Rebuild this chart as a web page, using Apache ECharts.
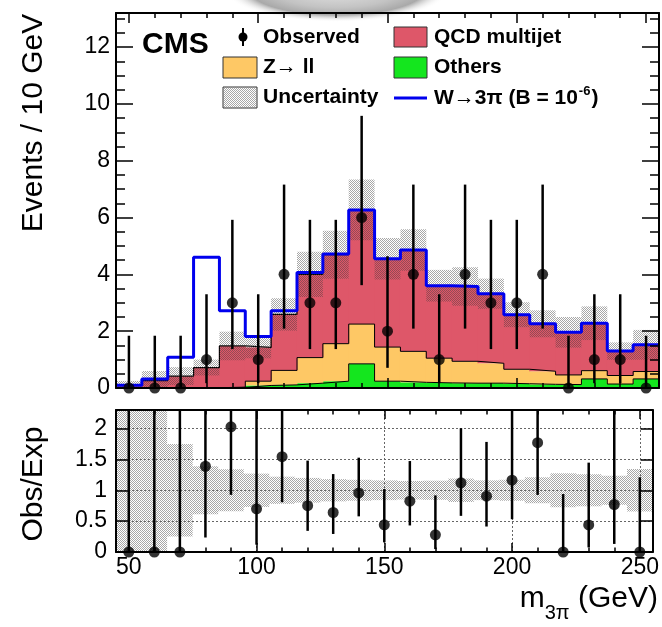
<!DOCTYPE html>
<html>
<head>
<meta charset="utf-8">
<script src="https://cdn.jsdelivr.net/npm/echarts@6/dist/echarts.min.js"></script>
<style>
  html, body { margin: 0; padding: 0; background: #fff; }
  #chart { width: 662px; height: 627px; }
</style>
</head>
<body>
<div id="chart"></div>
<script>
// m(3pi) bins, 10 GeV wide, given by their centres
const binCenters = [50, 60, 70, 80, 90, 100, 110, 120, 130, 140, 150, 160, 170, 180, 190, 200, 210, 220, 230, 240, 250];
const binHalfWidth = 5;

// observed events and their 68% Poisson interval
const observed = [0, 0, 0, 1, 3, 1, 4, 3, 3, 6, 2, 4, 1, 4, 3, 3, 4, 0, 1, 1, 0];
const obsLow   = [0, 0, 0, 0.17, 1.37, 0.17, 2.09, 1.37, 1.37, 3.62, 0.71, 2.09, 0.17, 2.09, 1.37, 1.37, 2.09, 0, 0.17, 0.17, 0];
const obsHigh  = [1.84, 1.84, 1.84, 3.30, 5.92, 3.30, 7.16, 5.92, 5.92, 9.58, 4.64, 7.16, 3.30, 7.16, 5.92, 5.92, 7.16, 1.84, 3.30, 3.30, 1.84];

// background components (stacked bottom to top: others, Z -> ll, QCD) and the W -> 3pi signal
const others      = [0, 0, 0, 0, 0.02, 0.09, 0.11, 0.17, 0.24, 0.85, 0.24, 0.20, 0.18, 0.17, 0.17, 0.15, 0.13, 0.12, 0.32, 0.14, 0.32];
const zToLL       = [0, 0, 0, 0.01, 0.01, 0.15, 0.51, 0.90, 1.32, 1.40, 1.20, 1.09, 0.87, 0.77, 0.70, 0.51, 0.46, 0.34, 0.29, 0.30, 0.26];
const qcdMultijet = [0.10, 0.26, 0.42, 0.71, 1.45, 1.19, 1.97, 2.93, 3.13, 4.02, 3.11, 3.57, 2.55, 2.63, 2.45, 1.92, 1.67, 1.50, 1.67, 0.86, 0.94];
const signalW     = [0, 0.06, 0.66, 3.88, 1.24, 0.38, 0.13, 0.07, 0.03, 0, 0, 0, 0, 0, 0, 0, 0, 0, 0, 0, 0];

// relative uncertainty of the total background
const bkgRelUnc = [1.5, 1.3, 0.75, 0.39, 0.34, 0.27, 0.22, 0.20, 0.18, 0.17, 0.16, 0.15, 0.155, 0.19, 0.16, 0.17, 0.21, 0.275, 0.26, 0.235, 0.345];

// axis ticks
const xMajorTicks = [50, 100, 150, 200, 250];
const xMinorTicks = [50, 60, 70, 80, 90, 100, 110, 120, 130, 140, 150, 160, 170, 180, 190, 200, 210, 220, 230, 240, 250];
const yMainMajorTicks = [0, 2, 4, 6, 8, 10, 12];
const yMainMinorTicks = [0.5, 1, 1.5, 2.5, 3, 3.5, 4.5, 5, 5.5, 6.5, 7, 7.5, 8.5, 9, 9.5, 10.5, 11, 11.5, 12.5, 13];
const yRatioTicks = [0, 0.5, 1, 1.5, 2];

const X_MIN = 45, X_MAX = 255, Y_MAX = 13.2, R_MAX = 2.3;
const FONT = '"Liberation Sans", Arial, Helvetica, sans-serif';

// cumulative stack levels
const lvlOthers = others.slice();
const lvlZ = lvlOthers.map((v, i) => v + zToLL[i]);
const totalBkg = lvlZ.map((v, i) => v + qcdMultijet[i]);
const totalWithSignal = totalBkg.map((t, i) => t + signalW[i]);

// histogram outline: one point per left bin edge plus the closing right edge
function stepData(vals) {
  const d = vals.map((v, i) => [binCenters[i] - binHalfWidth, v]);
  d.push([binCenters[binCenters.length - 1] + binHalfWidth, vals[vals.length - 1]]);
  return d;
}

// translucent stipple fill for the uncertainty band
const pat = document.createElement('canvas');
pat.width = 2; pat.height = 2;
const pctx = pat.getContext('2d');
pctx.fillStyle = 'rgba(60,60,60,0.45)';
pctx.fillRect(0, 0, 1, 1);
pctx.fillRect(1, 1, 1, 1);
const stipple = { image: pat, repeat: 'repeat' };

const colQCD = '#de5769', colZ = '#fec865', colOther = '#14e61e', colSig = '#0000ee';

// axes builders: ticks inside on all four sides, frame drawn above the data
function xAxis(grid, position, ticks, len, withLine, withLabels) {
  return {
    type: 'value', gridIndex: grid, position: position, min: X_MIN, max: X_MAX, z: 20,
    axisLine: { show: withLine, onZero: false, lineStyle: { color: '#000', width: 2 } },
    axisTick: { show: true, inside: true, length: len, customValues: ticks, lineStyle: { color: '#000', width: 1.5 } },
    axisLabel: withLabels
      ? { show: true, customValues: ticks, color: '#000', fontSize: 23, fontFamily: FONT, margin: 4 }
      : { show: false },
    splitLine: { show: false }
  };
}
function yAxis(grid, position, max, ticks, len, withLine, withLabels, margin) {
  return {
    type: 'value', gridIndex: grid, position: position, min: 0, max: max, z: 20,
    axisLine: { show: withLine, onZero: false, lineStyle: { color: '#000', width: 2 } },
    axisTick: { show: true, inside: true, length: len, customValues: ticks, lineStyle: { color: '#000', width: 1.5 } },
    axisLabel: withLabels
      ? { show: true, customValues: ticks, color: '#000', fontSize: 23, fontFamily: FONT, margin: margin }
      : { show: false },
    splitLine: { show: false }
  };
}

// text helpers for sub/superscripts
const mctx = document.createElement('canvas').getContext('2d');
function textWidth(str, font) { mctx.font = font; return mctx.measureText(str).width; }

const legFont = 'bold 21px ' + FONT;
const titleFont = '30px ' + FONT;
const subFont = '20px ' + FONT;

// x-axis title m_{3pi} (GeV), right-aligned to the frame
const xtRight = 658, xtBase = 614;
const wGeV = textWidth(' (GeV)', titleFont);
const wSub = textWidth('3\u03c0', subFont);
const xTitle = [
  { type: 'text', x: xtRight, y: xtBase, style: { text: ' (GeV)', font: titleFont, fill: '#000', textAlign: 'right', textVerticalAlign: 'bottom' } },
  { type: 'text', x: xtRight - wGeV, y: xtBase + 9, style: { text: '3\u03c0', font: subFont, fill: '#000', textAlign: 'right', textVerticalAlign: 'bottom' } },
  { type: 'text', x: xtRight - wGeV - wSub, y: xtBase, style: { text: 'm', font: titleFont, fill: '#000', textAlign: 'right', textVerticalAlign: 'bottom' } }
];

// legend entry W -> 3pi (B = 10^-6)
const sigX = 434, sigY = 98;
const sigPart1 = 'W\u21923\u03c0 (B = 10';
const w1 = textWidth(sigPart1, legFont);
const supFont = 'bold 13px ' + FONT;
const wSup = textWidth('-6', supFont);

const overlay = [
  // axis titles
  { type: 'text', x: 34, y: 123, rotation: Math.PI / 2,
    style: { text: 'Events / 10 GeV', font: titleFont, fill: '#000', textAlign: 'center', textVerticalAlign: 'middle' } },
  { type: 'text', x: 34, y: 484, rotation: Math.PI / 2,
    style: { text: 'Obs/Exp', font: titleFont, fill: '#000', textAlign: 'center', textVerticalAlign: 'middle' } },
  ...xTitle,
  // CMS label
  { type: 'text', x: 142, y: 45, style: { text: 'CMS', font: 'bold 30px ' + FONT, fill: '#000', textVerticalAlign: 'middle' } },
  // legend: observed
  { type: 'line', shape: { x1: 243, y1: 28, x2: 243, y2: 46 }, style: { stroke: '#000', lineWidth: 2 } },
  { type: 'circle', shape: { cx: 243, cy: 37, r: 4.5 }, style: { fill: '#000' } },
  { type: 'text', x: 263, y: 37, style: { text: 'Observed', font: legFont, fill: '#000', textVerticalAlign: 'middle' } },
  // legend: QCD
  { type: 'rect', shape: { x: 394, y: 27, width: 33, height: 20 }, style: { fill: colQCD, stroke: '#333', lineWidth: 1 } },
  { type: 'text', x: 434, y: 37, style: { text: 'QCD multijet', font: legFont, fill: '#000', textVerticalAlign: 'middle' } },
  // legend: Z -> ll
  { type: 'rect', shape: { x: 223, y: 57, width: 34, height: 21 }, style: { fill: colZ, stroke: '#333', lineWidth: 1 } },
  { type: 'text', x: 263, y: 67, style: { text: 'Z\u2192 ll', font: legFont, fill: '#000', textVerticalAlign: 'middle' } },
  // legend: others
  { type: 'rect', shape: { x: 394, y: 57, width: 33, height: 21 }, style: { fill: colOther, stroke: '#333', lineWidth: 1 } },
  { type: 'text', x: 434, y: 67, style: { text: 'Others', font: legFont, fill: '#000', textVerticalAlign: 'middle' } },
  // legend: uncertainty
  { type: 'rect', shape: { x: 223, y: 87, width: 34, height: 21 }, style: { fill: '#fff', stroke: '#333', lineWidth: 1 } },
  { type: 'rect', shape: { x: 223.5, y: 87.5, width: 33, height: 20 }, style: { fill: stipple } },
  { type: 'text', x: 263, y: 97, style: { text: 'Uncertainty', font: legFont, fill: '#000', textVerticalAlign: 'middle' } },
  // legend: signal
  { type: 'line', shape: { x1: 394, y1: sigY, x2: 427, y2: sigY }, style: { stroke: colSig, lineWidth: 3 } },
  { type: 'text', x: sigX, y: sigY, style: { text: sigPart1, font: legFont, fill: '#000', textVerticalAlign: 'middle' } },
  { type: 'text', x: sigX + w1 + 1, y: sigY - 7, style: { text: '-6', font: supFont, fill: '#000', textVerticalAlign: 'middle' } },
  { type: 'text', x: sigX + w1 + wSup + 2, y: sigY, style: { text: ')', font: legFont, fill: '#000', textVerticalAlign: 'middle' } }
].map(el => Object.assign({ z: 50 }, el));

const graphics = [
  // soft grey shadow above the frame (a circle stretched into a wide ellipse)
  {
    type: 'circle', z: -10, silent: true,
    x: 337, y: -10, scaleX: 3.5, scaleY: 1,
    shape: { cx: 0, cy: 0, r: 32 },
    style: {
      fill: {
        type: 'radial', x: 0.5, y: 0.5, r: 0.5,
        colorStops: [
          { offset: 0, color: 'rgba(200,200,200,0.55)' },
          { offset: 0.55, color: 'rgba(170,170,170,0.7)' },
          { offset: 0.78, color: 'rgba(140,140,140,0.75)' },
          { offset: 1, color: 'rgba(255,255,255,0)' }
        ]
      }
    }
  },
  ...overlay
];

function errorBarItem(params, api) {
  const x = api.value(0);
  const p1 = api.coord([x, api.value(1)]);
  const p2 = api.coord([x, api.value(2)]);
  return { type: 'line', shape: { x1: p1[0], y1: p1[1], x2: p2[0], y2: p2[1] }, style: { stroke: '#000', lineWidth: 2.5 } };
}
// filled bin between a lower and an upper level (slight overlap hides seams)
function binRect(fill, pad) {
  return function (params, api) {
    const x = api.value(0);
    const a = api.coord([x - binHalfWidth, api.value(2)]);
    const b = api.coord([x + binHalfWidth, api.value(1)]);
    return { type: 'rect', shape: { x: a[0] - pad, y: a[1], width: b[0] - a[0] + 2 * pad, height: b[1] - a[1] }, style: { fill: fill } };
  };
}
function binSeries(name, lo, hi, fill, z, xi, yi, pad) {
  return {
    name: name, type: 'custom', xAxisIndex: xi, yAxisIndex: yi, z: z, clip: true,
    renderItem: binRect(fill, pad), encode: { x: 0, y: [1, 2] },
    data: binCenters.map((c, i) => [c, lo[i], hi[i]])
  };
}
function outline(name, vals, color, width, z) {
  return { name: name, type: 'line', xAxisIndex: 0, yAxisIndex: 0, step: 'end', symbol: 'none', z: z,
    data: stepData(vals), lineStyle: { color: color, width: width } };
}

const zeros = binCenters.map(() => 0);
const bandLow = totalBkg.map((t, i) => Math.max(0, t * (1 - bkgRelUnc[i])));
const bandHigh = totalBkg.map((t, i) => t * (1 + bkgRelUnc[i]));

const ratio = observed.map((o, i) => o / totalBkg[i]);
const ratioLow = obsLow.map((v, i) => v / totalBkg[i]);
const ratioHigh = obsHigh.map((v, i) => v / totalBkg[i]);
const ratioBandLow = bkgRelUnc.map(u => Math.max(0, 1 - u));
const ratioBandHigh = bkgRelUnc.map(u => 1 + u);

const chart = echarts.init(document.getElementById('chart'), null, { renderer: 'canvas' });
chart.setOption({
  animation: false,
  backgroundColor: '#fff',
  textStyle: { fontFamily: FONT },
  grid: [
    { left: 116, top: 13, width: 543, height: 375 },
    { left: 116, top: 410, width: 543, height: 142 }
  ],
  xAxis: [
    xAxis(0, 'bottom', xMajorTicks, 10, true, false),
    xAxis(0, 'bottom', xMinorTicks, 5, false, false),
    xAxis(0, 'top', xMajorTicks, 10, true, false),
    xAxis(0, 'top', xMinorTicks, 5, false, false),
    xAxis(1, 'bottom', xMajorTicks, 9, true, true),
    xAxis(1, 'bottom', xMinorTicks, 4.5, false, false),
    xAxis(1, 'top', xMajorTicks, 9, true, false),
    xAxis(1, 'top', xMinorTicks, 4.5, false, false)
  ],
  yAxis: [
    yAxis(0, 'left', Y_MAX, yMainMajorTicks, 17, true, true, 6),
    yAxis(0, 'left', Y_MAX, yMainMinorTicks, 9, false, false, 0),
    yAxis(0, 'right', Y_MAX, yMainMajorTicks, 17, true, false, 0),
    yAxis(0, 'right', Y_MAX, yMainMinorTicks, 9, false, false, 0),
    yAxis(1, 'left', R_MAX, yRatioTicks, 12, true, true, 9),
    yAxis(1, 'right', R_MAX, yRatioTicks, 12, true, false, 0)
  ],
  graphic: { elements: graphics },
  series: [
    // stacked backgrounds
    binSeries('Others', zeros, lvlOthers, colOther, 2, 0, 0, 0.5),
    binSeries('Z\u2192 ll', lvlOthers, lvlZ, colZ, 2, 0, 0, 0.5),
    binSeries('QCD multijet', lvlZ, totalBkg, colQCD, 2, 0, 0, 0.5),
    outline('Others outline', lvlOthers, '#000', 1, 3),
    outline('Z outline', lvlZ, '#000', 1, 3),
    outline('Total outline', totalBkg, '#000', 1.2, 3),
    // background uncertainty
    binSeries('Uncertainty', bandLow, bandHigh, stipple, 4, 0, 0, 0),
    // signal + background
    outline('W\u21923\u03c0', totalWithSignal, colSig, 3, 5),
    // observed data
    { name: 'Observed err', type: 'custom', xAxisIndex: 0, yAxisIndex: 0, z: 6, renderItem: errorBarItem,
      encode: { x: 0, y: [1, 2] },
      data: binCenters.map((c, i) => [c, obsLow[i], obsHigh[i]]) },
    { name: 'Observed', type: 'scatter', xAxisIndex: 0, yAxisIndex: 0, z: 7, clip: false,
      symbol: 'circle', symbolSize: 11, itemStyle: { color: '#000' },
      data: binCenters.map((c, i) => [c, observed[i]]) },

    // ratio panel
    binSeries('Ratio band', ratioBandLow, ratioBandHigh, stipple, 2, 4, 4, 0),
    { name: 'Ratio grid', type: 'line', xAxisIndex: 4, yAxisIndex: 4, z: 3, symbol: 'none', data: [],
      markLine: {
        silent: true, symbol: ['none', 'none'], label: { show: false },
        lineStyle: { color: '#666', width: 1, type: [2, 2] },
        data: xMajorTicks.map(v => ({ xAxis: v })).concat(yRatioTicks.slice(1).map(v => ({ yAxis: v })))
      } },
    { name: 'Ratio err', type: 'custom', xAxisIndex: 4, yAxisIndex: 4, z: 5, clip: true, renderItem: errorBarItem,
      encode: { x: 0, y: [1, 2] },
      data: binCenters.map((c, i) => [c, ratioLow[i], ratioHigh[i]]) },
    { name: 'Ratio', type: 'scatter', xAxisIndex: 4, yAxisIndex: 4, z: 6, clip: false,
      symbol: 'circle', symbolSize: 11, itemStyle: { color: '#000' },
      data: binCenters.map((c, i) => [c, ratio[i]]) }
  ]
});
</script>
</body>
</html>
